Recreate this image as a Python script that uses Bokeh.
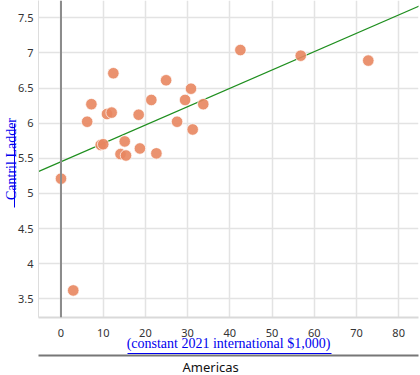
from bokeh.plotting import figure
from bokeh.models import Range1d, Span, Title, LinearAxis, ColumnDataSource, FixedTicker
from bokeh.embed import file_html
from bokeh.resources import INLINE

# GDP per capita (constant 2021 international $1,000) vs Cantril Ladder score, Americas
gdp = [0.0, 2.9, 6.2, 7.2, 9.4, 10.0, 10.9, 12.0, 12.4, 15.1, 14.1, 15.4, 18.4,
       18.7, 21.4, 22.6, 24.9, 27.5, 29.4, 30.8, 31.2, 33.7, 42.5, 56.8, 72.8]
ladder = [5.21, 3.62, 6.02, 6.27, 5.69, 5.70, 6.13, 6.15, 6.71, 5.74, 5.56, 5.54, 6.12,
          5.64, 6.33, 5.57, 6.61, 6.02, 6.33, 6.49, 5.91, 6.27, 7.04, 6.96, 6.89]
trend_x = [-5.4, 85.0]
trend_y = [5.31, 7.67]
x_ticks = [0, 10, 20, 30, 40, 50, 60, 70, 80]
y_ticks = [3.5, 4, 4.5, 5, 5.5, 6, 6.5, 7, 7.5]
x_title = "(constant 2021 international $1,000)"
y_title = "Cantril Ladder"
panel_title = "Americas"

LINK = "#0000ee"

p = figure(width=420, height=375, x_range=Range1d(-5.33, 84.7), y_range=Range1d(3.235, 7.745),
           output_backend="svg", toolbar_location=None,
           min_border_left=38, min_border_right=2, min_border_top=0, min_border_bottom=57)
p.outline_line_color = None
p.background_fill_color = "white"
p.border_fill_color = "white"

for ax in (p.xaxis[0], p.yaxis[0]):
    ax.major_tick_out = 0
    ax.major_tick_in = 0
    ax.minor_tick_out = 0
    ax.minor_tick_in = 0
    ax.major_label_text_font = "Noto Sans"
    ax.major_label_text_font_size = "11px"
    ax.major_label_text_color = "#333333"

p.xaxis.ticker = FixedTicker(ticks=x_ticks)
p.yaxis.ticker = FixedTicker(ticks=y_ticks)
p.yaxis.major_label_overrides = {v: f"{v:g}" for v in y_ticks}
p.xaxis.axis_line_color = "#d9d9d9"
p.xaxis.axis_line_width = 2
p.yaxis.axis_line_color = "#dddddd"
p.yaxis.axis_line_width = 1
p.xaxis.major_label_standoff = 11
p.yaxis.major_label_standoff = 5

p.xaxis.axis_label = x_title
p.xaxis.axis_label_text_font = "Liberation Serif"
p.xaxis.axis_label_text_font_style = "normal"
p.xaxis.axis_label_text_font_size = "14px"
p.xaxis.axis_label_text_color = LINK
p.xaxis.axis_label_standoff = -4

p.xgrid.ticker = FixedTicker(ticks=x_ticks)
p.ygrid.ticker = FixedTicker(ticks=y_ticks)
p.grid.grid_line_color = "#e3e3e3"
p.grid.grid_line_width = 1.5

p.add_layout(Span(location=0, dimension="height", line_color="#8c8c8c", line_width=2))

p.line(trend_x, trend_y, line_color="#1f8f1f", line_width=1.2)
src = ColumnDataSource(dict(x=gdp, y=ladder))
p.scatter("x", "y", source=src, size=11.5, fill_color="#e8865f", fill_alpha=0.9,
          line_color="white", line_width=1, line_alpha=0.7)


def bare_axis(color, width, bounds=None, label=None, out=0, standoff=0, spacer_tick=None):
    ticks = [] if spacer_tick is None else [spacer_tick]
    ax = LinearAxis(ticker=FixedTicker(ticks=ticks), axis_line_color=color, axis_line_width=width,
                    major_tick_out=out, major_tick_in=0, minor_tick_out=0, minor_tick_in=0,
                    major_tick_line_color=None, major_label_standoff=0,
                    major_label_text_font_size="0px")
    if spacer_tick is not None:
        ax.major_label_overrides = {spacer_tick: ""}
    if bounds is not None:
        ax.bounds = bounds
    if label is not None:
        ax.axis_label = label
        ax.axis_label_text_font = "Liberation Serif"
        ax.axis_label_text_font_style = "normal"
        ax.axis_label_text_font_size = "14px"
        ax.axis_label_text_color = LINK
        ax.axis_label_standoff = standoff
    return ax


# underline of the x-axis title (link style), separator, facet title
p.add_layout(bare_axis(LINK, 1, bounds=(15.8, 64.1), out=2, spacer_tick=40), "below")
p.add_layout(bare_axis("#777777", 2), "below")
p.add_layout(Title(text=panel_title, align="left", offset=144, standoff=0, text_font="Noto Sans",
                   text_font_size="13px", text_font_style="normal", text_color="#111111"), "below")

# y-axis title with its underline (link style)
p.add_layout(bare_axis(LINK, 1, bounds=(4.8, 6.0), label=y_title, standoff=-4), "left")

open("out.html", "w").write(file_html(p, INLINE))
